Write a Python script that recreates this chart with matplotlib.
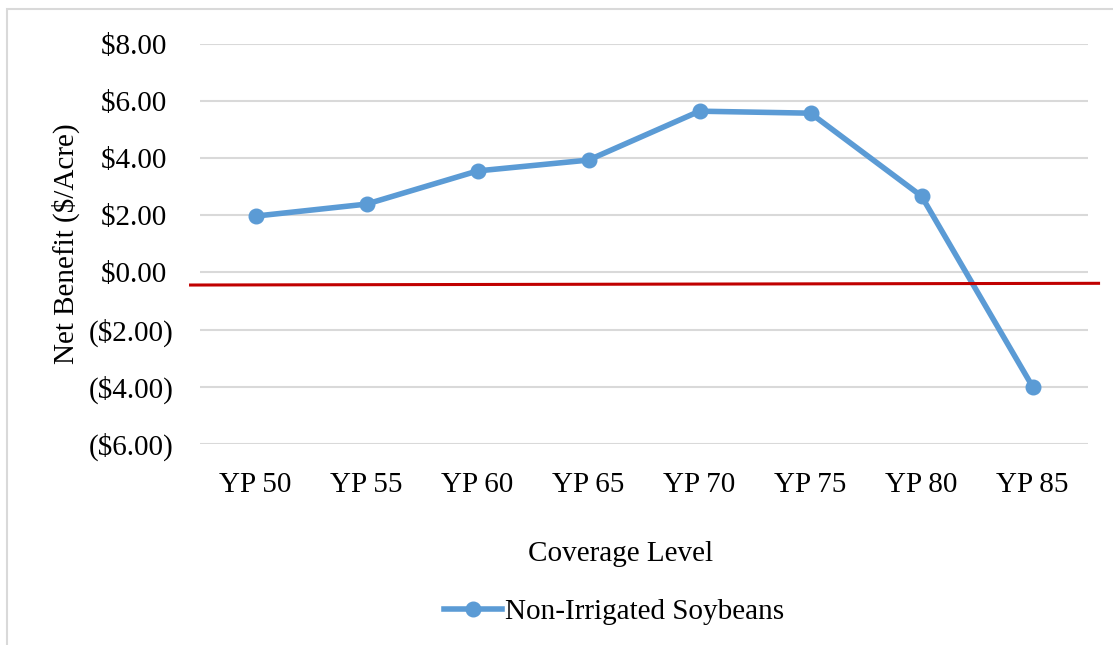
import matplotlib
matplotlib.use("Agg")
from matplotlib import pyplot as plt
from matplotlib.patches import Rectangle
from matplotlib.ticker import FuncFormatter

levels = ['YP 50', 'YP 55', 'YP 60', 'YP 65', 'YP 70', 'YP 75', 'YP 80', 'YP 85']
benefit = [1.97, 2.39, 3.55, 3.93, 5.64, 5.57, 2.67, -3.99]

# red reference line (slightly sloped, drawn past the plot edges)
ref_x = [-0.585, 7.595]
ref_y = [-0.44, -0.38]

plt.rcParams['font.family'] = ['Liberation Serif', 'DejaVu Serif']
plt.rcParams['font.size'] = 21

fig = plt.figure(figsize=(11.13, 6.45), dpi=100)
ax = fig.add_axes([200/1113, 1-444/645, 888/1113, 400.3/645])

# outer chart border (only top/left visible in crop)
fig.patches.append(Rectangle((7/1113, -0.5), 2, 0.5 + 1 - 9/645,
                             transform=fig.transFigure, fill=False,
                             edgecolor='#D9D9D9', linewidth=1.5))

x = list(range(len(levels)))
ax.plot(x, benefit, '-o', color='#5B9BD5', linewidth=4.0, markersize=10.5,
        label='Non-Irrigated Soybeans', zorder=3)
ax.plot(ref_x, ref_y, color='#C00000', linewidth=2.2, clip_on=False, zorder=4)

ax.set_xlim(-0.5, 7.5)
ax.set_ylim(-6, 8)
ax.set_yticks(range(-6, 9, 2))
# Excel style: positives keep room for the closing paren
ax.yaxis.set_major_formatter(FuncFormatter(
    lambda v, p: '(${:.2f})'.format(-v) if v < 0 else '${:.2f} '.format(v)))
ax.set_xticks(x)
ax.set_xticklabels(levels)
ax.grid(True, axis='y', color='#D9D9D9', linewidth=1.5)
ax.set_axisbelow(True)
for s in ax.spines.values():
    s.set_visible(False)
ax.tick_params(length=0)
ax.tick_params(axis='y', pad=19)
ax.tick_params(axis='x', pad=20)

ax.set_ylabel('Net Benefit ($/Acre)', labelpad=6)
ax.set_xlabel('Coverage Level', labelpad=31, x=0.474)
ax.legend(loc='upper center', bbox_to_anchor=(0.466, -0.32), frameon=False,
          handlelength=2.0, handletextpad=0.1)

fig.savefig('out.png', dpi=100)
